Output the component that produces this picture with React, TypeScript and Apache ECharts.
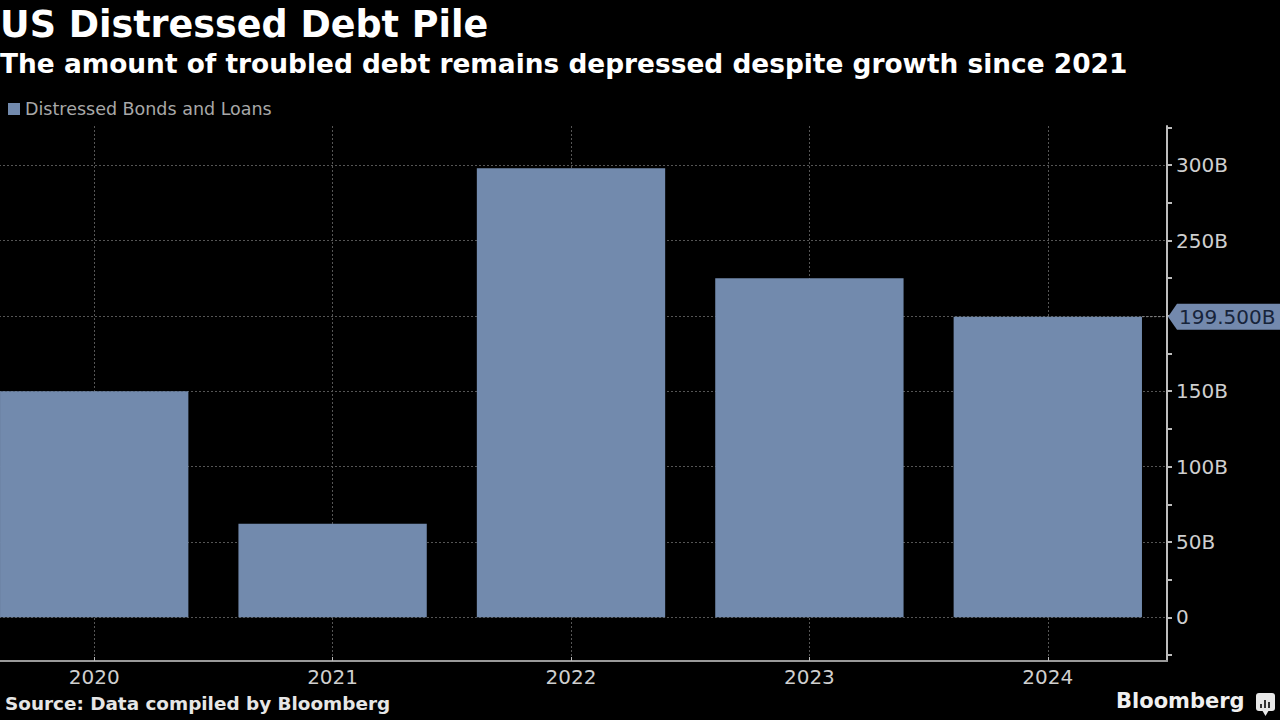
import React, { useEffect, useRef } from "react";
import * as echarts from "echarts";

const categories = ["2020", "2021", "2022", "2023", "2024"];
const seriesName = "Distressed Bonds and Loans";
const values = [150, 62, 298, 225, 199.5];
const yTickValues = [-25, 0, 25, 50, 75, 100, 125, 150, 175, 200, 225, 250, 275, 300, 325];
const yLabelValues = [0, 50, 100, 150, 250, 300];
const yMin = -29;
const yMax = 326;
const lastValue = 199.5;
const lastLabel = "199.500B";
const titleText = "US Distressed Debt Pile";
const subtitleText = "The amount of troubled debt remains depressed despite growth since 2021";
const sourceText = "Source: Data compiled by Bloomberg";
const brandText = "Bloomberg";

const FONT = "DejaVu Sans";
const BAR = "#728aad";
const SHIFT = 25; // chart canvas extends 25px left of the page edge

export default function App() {
  const ref = useRef<HTMLDivElement>(null);
  useEffect(() => {
    if (!ref.current) return;
    const chart = echarts.init(ref.current, null, { renderer: "svg" });
    const X = (v: number) => v + SHIFT;
    const option: any = {
      animation: false,
      backgroundColor: "#000000",
      textStyle: { fontFamily: FONT },
      grid: { left: 0, right: 113, top: 126, bottom: 59, containLabel: false },
      legend: {
        show: true,
        data: [seriesName],
        left: X(8),
        top: 100,
        padding: 0,
        itemWidth: 12,
        itemHeight: 12,
        icon: "rect",
        textStyle: { color: "#a8a8a8", fontSize: 17.5, fontFamily: FONT },
      },
      xAxis: [
        {
          type: "category",
          data: categories,
          position: "bottom",
          axisLine: { show: true, onZero: false, lineStyle: { color: "#9a9a9a", width: 2 } },
          axisTick: { show: true, alignWithLabel: true, inside: true, length: 4, lineStyle: { color: "#bbbbbb" } },
          axisLabel: { color: "#cfcfcf", fontSize: 20, fontFamily: FONT, margin: 6 },
          splitLine: { show: false },
        },
        {
          type: "value",
          min: -0.5,
          max: 4.5,
          splitNumber: 5,
          position: "top",
          axisLine: { show: false },
          axisTick: { show: false },
          axisLabel: { show: false },
          splitLine: {
            show: true,
            showMinLine: false,
            showMaxLine: false,
            lineStyle: { color: "#555555", type: [2, 2], width: 1 },
          },
        },
      ],
      yAxis: [
        {
          type: "value",
          position: "right",
          min: yMin,
          max: yMax,
          axisLine: { show: true, onZero: false, lineStyle: { color: "#bdbdbd", width: 2 } },
          axisTick: { show: true, customValues: yTickValues, length: 5, lineStyle: { color: "#bdbdbd", width: 2 } },
          axisLabel: {
            show: true,
            customValues: yLabelValues,
            color: "#cfcfcf",
            fontSize: 20,
            fontFamily: FONT,
            margin: 9,
            formatter: (v: number) => (v === 0 ? "0" : v + "B"),
          },
          splitLine: { show: false },
        },
        {
          type: "value",
          position: "left",
          min: yMin,
          max: yMax,
          splitNumber: 7,
          axisLine: { show: false },
          axisTick: { show: false },
          axisLabel: { show: false },
          splitLine: {
            show: true,
            showMinLine: false,
            showMaxLine: false,
            lineStyle: { color: "#555555", type: [2, 2], width: 1 },
          },
        },
      ],
      series: [
        {
          name: seriesName,
          type: "bar",
          xAxisIndex: 0,
          yAxisIndex: 0,
          data: values,
          barCategoryGap: "21%",
          itemStyle: { color: BAR },
          z: 3,
        },
      ],
    };
    chart.setOption(option);

    const yTag = chart.convertToPixel({ yAxisIndex: 0 }, lastValue) as number;
    const xLast = chart.convertToPixel({ xAxisIndex: 0 }, categories[categories.length - 1]) as number;
    const xFirst = chart.convertToPixel({ xAxisIndex: 0 }, categories[0]) as number;
    const xSecond = chart.convertToPixel({ xAxisIndex: 0 }, categories[1]) as number;
    const band = xSecond - xFirst;
    const barRight = xLast + (band * 0.79) / 2;
    const axisX = X(1167);
    const tagL = axisX + 1;
    const h = 13;

    chart.setOption({
      graphic: [
        {
          type: "text",
          left: X(0),
          top: 6,
          style: { text: titleText, fill: "#ffffff", font: `bold 36.5px '${FONT}'` },
        },
        {
          type: "text",
          left: X(0),
          top: 50,
          style: { text: subtitleText, fill: "#ffffff", font: `bold 26.4px '${FONT}'` },
        },
        {
          type: "line",
          shape: { x1: barRight, y1: yTag, x2: axisX - 1, y2: yTag },
          style: { stroke: "#888888", lineWidth: 1, lineDash: [2, 2] },
          z: 10,
        },
        {
          type: "polygon",
          shape: {
            points: [
              [tagL, yTag],
              [tagL + 9, yTag - h],
              [X(1280), yTag - h],
              [X(1280), yTag + h],
              [tagL + 9, yTag + h],
            ],
          },
          style: { fill: "#7389ad" },
          z: 10,
        },
        {
          type: "text",
          x: tagL + 11,
          y: yTag,
          style: {
            text: lastLabel,
            fill: "#17243a",
            font: `20px '${FONT}'`,
            textVerticalAlign: "middle",
          },
          z: 11,
        },
        {
          type: "text",
          left: X(5),
          top: 694,
          style: { text: sourceText, fill: "#e6e6e6", font: `bold 18.4px '${FONT}'` },
        },
        {
          type: "text",
          left: X(1116),
          top: 690,
          style: { text: brandText, fill: "#f0f0f0", font: `bold 21px '${FONT}'` },
        },
        {
          type: "rect",
          shape: { x: X(1256), y: 693, width: 19, height: 18, r: 3 },
          style: { fill: "#e8e8e8" },
        },
        {
          type: "polygon",
          shape: { points: [[X(1262), 710], [X(1269), 710], [X(1265.5), 716]] },
          style: { fill: "#e8e8e8" },
        },
        { type: "rect", shape: { x: X(1260), y: 704, width: 2, height: 4 }, style: { fill: "#333" } },
        { type: "rect", shape: { x: X(1264), y: 700, width: 2, height: 8 }, style: { fill: "#333" } },
        { type: "rect", shape: { x: X(1268), y: 702, width: 2, height: 6 }, style: { fill: "#333" } },
      ],
    });

    return () => chart.dispose();
  }, []);
  return (
    <div style={{ position: "fixed", left: 0, top: 0, width: 1280, height: 720, overflow: "hidden", background: "#000" }}>
      <div
        ref={ref}
        style={{ position: "absolute", left: -SHIFT, top: 0, width: 1280 + SHIFT, height: 720 }}
      />
    </div>
  );
}
